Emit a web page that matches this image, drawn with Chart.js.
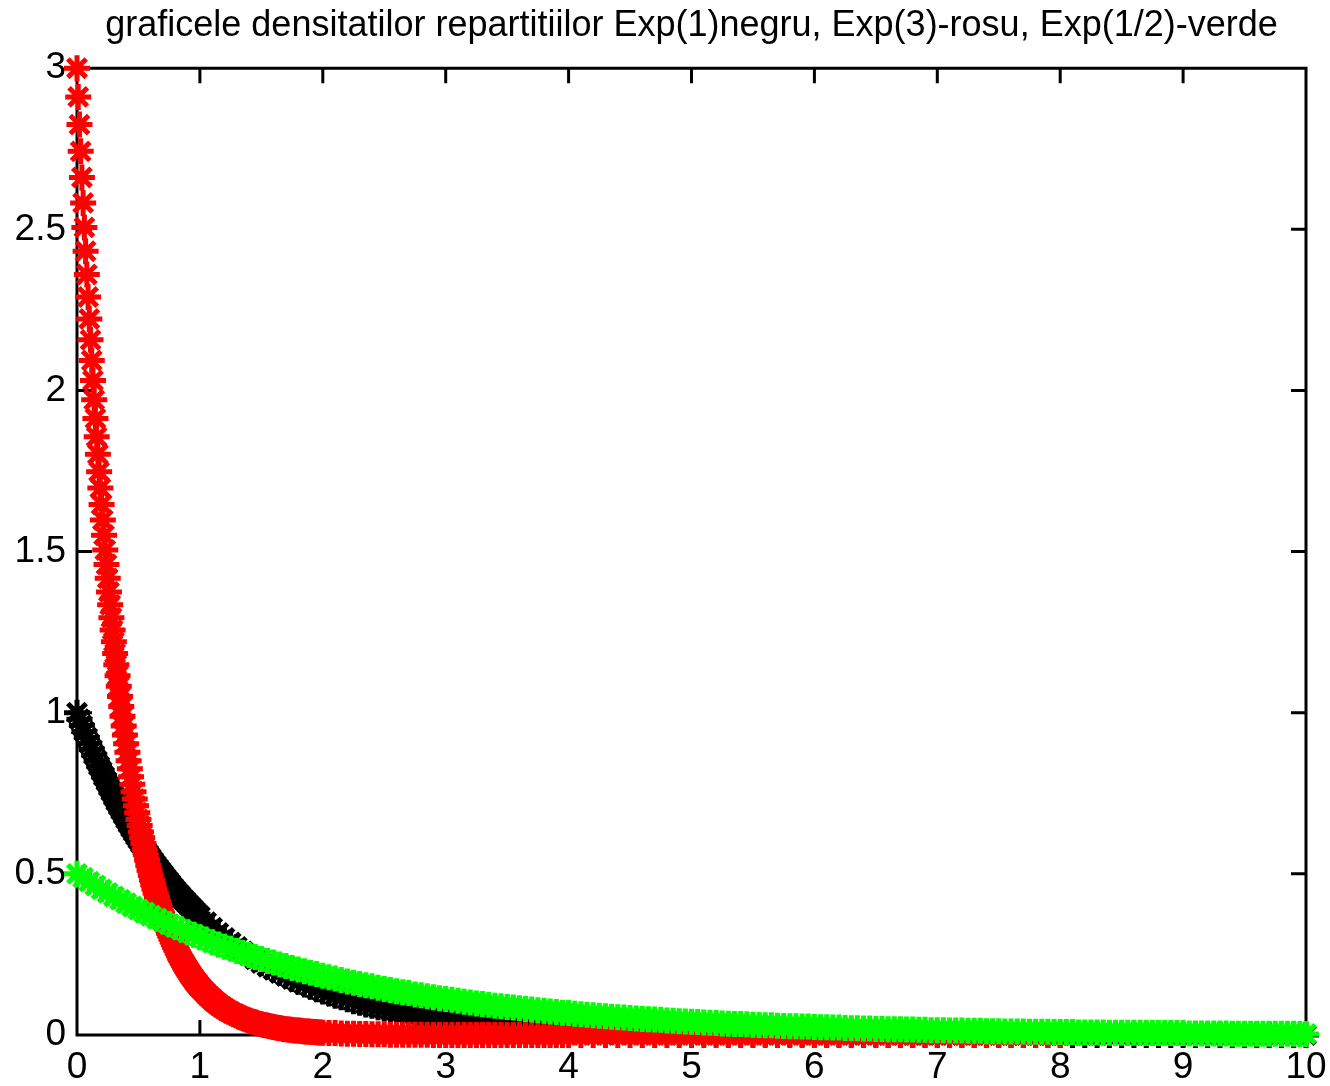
<!DOCTYPE html>
<html>
<head>
<meta charset="utf-8">
<script src="https://cdn.jsdelivr.net/npm/chart.js@4.4.1/dist/chart.umd.min.js"></script>
<style>
  html, body { margin: 0; padding: 0; background: #fff; }
  canvas { display: block; }
</style>
</head>
<body>
<canvas id="densChart" width="1330" height="1086"></canvas>
<script>
// Exp(1) density - black
var xNegru = [
  0.00,0.02,0.04,0.06,0.08,0.10,0.12,0.14,0.16,0.18,
  0.20,0.22,0.24,0.26,0.28,0.30,0.32,0.34,0.36,0.38,
  0.40,0.42,0.44,0.46,0.48,0.50,0.52,0.54,0.56,0.58,
  0.60,0.62,0.64,0.66,0.68,0.70,0.72,0.74,0.76,0.78,
  0.80,0.82,0.84,0.86,0.88,0.90,0.92,0.94,0.96,0.98,
  1.00,
  1.05,1.10,1.15,1.20,1.25,1.30,1.35,1.40,1.45,1.50,
  1.55,1.60,1.65,1.70,1.75,1.80,1.85,1.90,1.95,2.00,
  2.05,2.10,2.15,2.20,2.25,2.30,2.35,2.40,2.45,2.50,
  2.55,2.60,2.65,2.70,2.75,2.80,2.85,2.90,2.95,3.00,
  3.05,3.10,3.15,3.20,3.25,3.30,3.35,3.40,3.45,3.50,
  3.55,3.60,3.65,3.70,3.75,3.80,3.85,3.90,3.95,4.00,
  4.1,4.2,4.3,4.4,4.5,4.6,4.7,4.8,4.9,5.0,
  5.1,5.2,5.3,5.4,5.5,5.6,5.7,5.8,5.9,6.0,
  6.1,6.2,6.3,6.4,6.5,6.6,6.7,6.8,6.9,7.0,
  7.1,7.2,7.3,7.4,7.5,7.6,7.7,7.8,7.9,8.0,
  8.1,8.2,8.3,8.4,8.5,8.6,8.7,8.8,8.9,9.0,
  9.1,9.2,9.3,9.4,9.5,9.6,9.7,9.8,9.9,10.0
];
var yNegru = [
  1.000,0.980,0.961,0.942,0.923,0.905,0.887,0.869,0.852,0.835,
  0.819,0.803,0.787,0.771,0.756,0.741,0.726,0.712,0.698,0.684,
  0.670,0.657,0.644,0.631,0.619,0.607,0.595,0.583,0.571,0.560,
  0.549,0.538,0.527,0.517,0.507,0.497,0.487,0.477,0.468,0.458,
  0.449,0.440,0.432,0.423,0.415,0.407,0.399,0.391,0.383,0.375,
  0.368,
  0.350,0.333,0.317,0.301,0.287,0.273,0.259,0.247,0.235,0.223,
  0.212,0.202,0.192,0.183,0.174,0.165,0.157,0.150,0.142,0.135,
  0.129,0.122,0.117,0.111,0.105,0.100,0.095,0.091,0.086,0.082,
  0.078,0.074,0.071,0.067,0.064,0.061,0.058,0.055,0.052,0.050,
  0.047,0.045,0.043,0.041,0.039,0.037,0.035,0.033,0.032,0.030,
  0.029,0.027,0.026,0.025,0.024,0.022,0.021,0.020,0.019,0.018,
  0.017,0.015,0.014,0.012,0.011,0.010,0.009,0.008,0.007,0.007,
  0.006,0.006,0.005,0.005,0.004,0.004,0.003,0.003,0.003,0.002,
  0.002,0.002,0.002,0.002,0.002,0.001,0.001,0.001,0.001,0.001,
  0.001,0.001,0.001,0.001,0.001,0.000,0.000,0.000,0.000,0.000,
  0.000,0.000,0.000,0.000,0.000,0.000,0.000,0.000,0.000,0.000,
  0.000,0.000,0.000,0.000,0.000,0.000,0.000,0.000,0.000,0.000
];

// Exp(3) density - red
var xRosu = [
  0.00,0.01,0.02,0.03,0.04,0.05,0.06,0.07,0.08,0.09,
  0.10,0.11,0.12,0.13,0.14,0.15,0.16,0.17,0.18,0.19,
  0.20,0.21,0.22,0.23,0.24,0.25,0.26,0.27,0.28,0.29,
  0.30,0.31,0.32,0.33,0.34,0.35,0.36,0.37,0.38,0.39,
  0.40,0.41,0.42,0.43,0.44,0.45,0.46,0.47,0.48,0.49,
  0.50,0.51,0.52,0.53,0.54,0.55,0.56,0.57,0.58,0.59,
  0.60,0.61,0.62,0.63,0.64,0.65,0.66,0.67,0.68,0.69,
  0.70,0.71,0.72,0.73,0.74,0.75,0.76,0.77,0.78,0.79,
  0.80,0.81,0.82,0.83,0.84,0.85,0.86,0.87,0.88,0.89,
  0.90,0.91,0.92,0.93,0.94,0.95,0.96,0.97,0.98,0.99,
  1.00,
  1.02,1.04,1.06,1.08,1.10,1.12,1.14,1.16,1.18,1.20,
  1.22,1.24,1.26,1.28,1.30,1.32,1.34,1.36,1.38,1.40,
  1.42,1.44,1.46,1.48,1.50,1.52,1.54,1.56,1.58,1.60,
  1.62,1.64,1.66,1.68,1.70,1.72,1.74,1.76,1.78,1.80,
  1.82,1.84,1.86,1.88,1.90,1.92,1.94,1.96,1.98,2.00,
  2.05,2.10,2.15,2.20,2.25,2.30,2.35,2.40,2.45,2.50,
  2.55,2.60,2.65,2.70,2.75,2.80,2.85,2.90,2.95,3.00,
  3.05,3.10,3.15,3.20,3.25,3.30,3.35,3.40,3.45,3.50,
  3.55,3.60,3.65,3.70,3.75,3.80,3.85,3.90,3.95,4.00,
  4.1,4.2,4.3,4.4,4.5,4.6,4.7,4.8,4.9,5.0,
  5.1,5.2,5.3,5.4,5.5,5.6,5.7,5.8,5.9,6.0,
  6.1,6.2,6.3,6.4,6.5,6.6,6.7,6.8,6.9,7.0,
  7.1,7.2,7.3,7.4,7.5,7.6,7.7,7.8,7.9,8.0
];
var yRosu = [
  3.000,2.911,2.825,2.742,2.661,2.582,2.506,2.432,2.360,2.290,
  2.222,2.157,2.093,2.031,1.971,1.913,1.856,1.802,1.748,1.697,
  1.646,1.598,1.551,1.505,1.460,1.417,1.375,1.335,1.295,1.257,
  1.220,1.184,1.149,1.115,1.082,1.050,1.019,0.989,0.959,0.931,
  0.904,0.877,0.851,0.826,0.801,0.778,0.755,0.732,0.711,0.690,
  0.669,0.650,0.630,0.612,0.594,0.576,0.559,0.543,0.527,0.511,
  0.496,0.481,0.467,0.453,0.440,0.427,0.414,0.402,0.390,0.379,
  0.367,0.357,0.346,0.336,0.326,0.316,0.307,0.298,0.289,0.281,
  0.272,0.264,0.256,0.249,0.241,0.234,0.227,0.221,0.214,0.208,
  0.202,0.196,0.190,0.184,0.179,0.174,0.168,0.163,0.159,0.154,
  0.149,
  0.141,0.133,0.125,0.118,0.111,0.104,0.098,0.092,0.087,0.082,
  0.077,0.073,0.068,0.065,0.061,0.057,0.054,0.051,0.048,0.045,
  0.042,0.040,0.038,0.035,0.033,0.031,0.030,0.028,0.026,0.025,
  0.023,0.022,0.021,0.019,0.018,0.017,0.016,0.015,0.014,0.014,
  0.013,0.012,0.011,0.011,0.010,0.009,0.009,0.008,0.008,0.007,
  0.006,0.006,0.005,0.004,0.004,0.003,0.003,0.002,0.002,0.002,
  0.001,0.001,0.001,0.001,0.001,0.001,0.001,0.000,0.000,0.000,
  0.000,0.000,0.000,0.000,0.000,0.000,0.000,0.000,0.000,0.000,
  0.000,0.000,0.000,0.000,0.000,0.000,0.000,0.000,0.000,0.000,
  0.000,0.000,0.000,0.000,0.000,0.000,0.000,0.000,0.000,0.000,
  0.000,0.000,0.000,0.000,0.000,0.000,0.000,0.000,0.000,0.000,
  0.000,0.000,0.000,0.000,0.000,0.000,0.000,0.000,0.000,0.000,
  0.000,0.000,0.000,0.000,0.000,0.000,0.000,0.000,0.000,0.000
];

// Exp(1/2) density - green
var xVerde = [
  0.00,0.05,0.10,0.15,0.20,0.25,0.30,0.35,0.40,0.45,
  0.50,0.55,0.60,0.65,0.70,0.75,0.80,0.85,0.90,0.95,
  1.00,1.05,1.10,1.15,1.20,1.25,1.30,1.35,1.40,1.45,
  1.50,1.55,1.60,1.65,1.70,1.75,1.80,1.85,1.90,1.95,
  2.00,2.05,2.10,2.15,2.20,2.25,2.30,2.35,2.40,2.45,
  2.50,2.55,2.60,2.65,2.70,2.75,2.80,2.85,2.90,2.95,
  3.00,3.05,3.10,3.15,3.20,3.25,3.30,3.35,3.40,3.45,
  3.50,3.55,3.60,3.65,3.70,3.75,3.80,3.85,3.90,3.95,
  4.00,4.05,4.10,4.15,4.20,4.25,4.30,4.35,4.40,4.45,
  4.50,4.55,4.60,4.65,4.70,4.75,4.80,4.85,4.90,4.95,
  5.00,5.05,5.10,5.15,5.20,5.25,5.30,5.35,5.40,5.45,
  5.50,5.55,5.60,5.65,5.70,5.75,5.80,5.85,5.90,5.95,
  6.00,6.05,6.10,6.15,6.20,6.25,6.30,6.35,6.40,6.45,
  6.50,6.55,6.60,6.65,6.70,6.75,6.80,6.85,6.90,6.95,
  7.00,7.05,7.10,7.15,7.20,7.25,7.30,7.35,7.40,7.45,
  7.50,7.55,7.60,7.65,7.70,7.75,7.80,7.85,7.90,7.95,
  8.00,8.05,8.10,8.15,8.20,8.25,8.30,8.35,8.40,8.45,
  8.50,8.55,8.60,8.65,8.70,8.75,8.80,8.85,8.90,8.95,
  9.00,9.05,9.10,9.15,9.20,9.25,9.30,9.35,9.40,9.45,
  9.50,9.55,9.60,9.65,9.70,9.75,9.80,9.85,9.90,9.95,
  10.00
];
var yVerde = [
  0.500,0.488,0.476,0.464,0.452,0.441,0.430,0.420,0.409,0.399,
  0.389,0.380,0.370,0.361,0.352,0.344,0.335,0.327,0.319,0.311,
  0.303,0.296,0.288,0.281,0.274,0.268,0.261,0.255,0.248,0.242,
  0.236,0.230,0.225,0.219,0.214,0.208,0.203,0.198,0.193,0.189,
  0.184,0.179,0.175,0.171,0.166,0.162,0.158,0.154,0.151,0.147,
  0.143,0.140,0.136,0.133,0.130,0.126,0.123,0.120,0.117,0.114,
  0.112,0.109,0.106,0.103,0.101,0.098,0.096,0.094,0.091,0.089,
  0.087,0.085,0.083,0.081,0.079,0.077,0.075,0.073,0.071,0.069,
  0.068,0.066,0.064,0.063,0.061,0.060,0.058,0.057,0.055,0.054,
  0.053,0.051,0.050,0.049,0.048,0.047,0.045,0.044,0.043,0.042,
  0.041,0.040,0.039,0.038,0.037,0.036,0.035,0.034,0.034,0.033,
  0.032,0.031,0.030,0.030,0.029,0.028,0.027,0.027,0.026,0.026,
  0.025,0.024,0.024,0.023,0.023,0.022,0.021,0.021,0.020,0.020,
  0.019,0.019,0.018,0.018,0.018,0.017,0.017,0.016,0.016,0.015,
  0.015,0.015,0.014,0.014,0.014,0.013,0.013,0.013,0.012,0.012,
  0.012,0.011,0.011,0.011,0.011,0.010,0.010,0.010,0.010,0.009,
  0.009,0.009,0.009,0.008,0.008,0.008,0.008,0.008,0.007,0.007,
  0.007,0.007,0.007,0.007,0.006,0.006,0.006,0.006,0.006,0.006,
  0.006,0.005,0.005,0.005,0.005,0.005,0.005,0.005,0.004,0.004,
  0.004,0.004,0.004,0.004,0.004,0.004,0.004,0.004,0.004,0.003,
  0.003
];

var titlu = 'graficele densitatilor repartitiilor Exp(1)negru, Exp(3)-rosu, Exp(1/2)-verde';

function puncte(xs, ys) {
  return xs.map(function (x, i) { return { x: x, y: ys[i] }; });
}

// axes box with inward ticks on all four sides, drawn under the markers
var cadru = {
  id: 'cadru',
  beforeDatasetsDraw: function (chart) {
    var ctx = chart.ctx, a = chart.chartArea;
    var sx = chart.scales.x, sy = chart.scales.y;
    var len = 15;
    ctx.save();
    ctx.strokeStyle = '#000';
    ctx.lineWidth = 3;
    ctx.beginPath();
    ctx.rect(a.left, a.top, a.right - a.left, a.bottom - a.top);
    sx.ticks.forEach(function (t) {
      var px = sx.getPixelForValue(t.value);
      ctx.moveTo(px, a.bottom); ctx.lineTo(px, a.bottom - len);
      ctx.moveTo(px, a.top); ctx.lineTo(px, a.top + len);
    });
    sy.ticks.forEach(function (t) {
      var py = sy.getPixelForValue(t.value);
      ctx.moveTo(a.left, py); ctx.lineTo(a.left + len, py);
      ctx.moveTo(a.right, py); ctx.lineTo(a.right - len, py);
    });
    ctx.stroke();
    ctx.restore();
  }
};

var stea = {
  showLine: false,
  pointStyle: 'star',
  pointRadius: 13,
  pointHoverRadius: 13,
  pointBorderWidth: 5,
  clip: false
};

var font = "'Liberation Sans', Arial, sans-serif";

var ctx = document.getElementById('densChart').getContext('2d');
var densChart = new Chart(ctx, {
  type: 'scatter',
  data: {
    datasets: [
      Object.assign({ label: 'Exp(1)', data: puncte(xNegru, yNegru),
        borderColor: '#000000', backgroundColor: '#000000', order: 3 }, stea),
      Object.assign({ label: 'Exp(3)', data: puncte(xRosu, yRosu),
        borderColor: '#ff0000', backgroundColor: '#ff0000', order: 2 }, stea),
      Object.assign({ label: 'Exp(1/2)', data: puncte(xVerde, yVerde),
        borderColor: '#00ff00', backgroundColor: '#00ff00', order: 1 }, stea)
    ]
  },
  options: {
    responsive: false,
    animation: false,
    events: [],
    layout: { padding: { left: 0, right: 24, top: 0, bottom: 0 } },
    plugins: {
      legend: { display: false },
      tooltip: { enabled: false },
      title: {
        display: true,
        text: titlu,
        color: '#000',
        fullSize: false,
        font: { family: font, size: 36, weight: 'normal' },
        padding: { top: 4, bottom: 21 }
      }
    },
    scales: {
      x: {
        type: 'linear',
        min: 0,
        max: 10,
        grid: { display: false, drawTicks: false },
        border: { display: false },
        ticks: {
          stepSize: 1,
          color: '#000',
          padding: 11,
          font: { family: font, size: 37 }
        },
        afterFit: function (s) {
          s.height = 51;
          s.paddingLeft = 0;
          s.paddingRight = 0;
        }
      },
      y: {
        type: 'linear',
        min: 0,
        max: 3,
        grid: { display: false, drawTicks: false },
        border: { display: false },
        ticks: {
          stepSize: 0.5,
          color: '#000',
          padding: 11,
          font: { family: font, size: 37 },
          callback: function (v) { return String(v); }
        },
        afterFit: function (s) {
          s.width = 77;
          s.paddingTop = 0;
          s.paddingBottom = 0;
        }
      }
    }
  },
  plugins: [cadru]
});
</script>
</body>
</html>
